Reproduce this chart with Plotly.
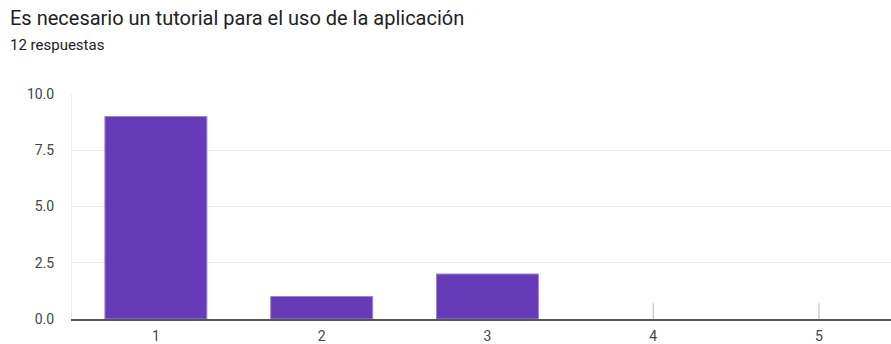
import plotly.graph_objects as go

# Survey responses: rating scale 1-5
categories = [1, 2, 3, 4, 5]
counts = [9, 1, 2, 0, 0]
y_ticks = [0, 2.5, 5, 7.5, 10]

title_text = "Es necesario un tutorial para el uso de la aplicación"
subtitle_text = "12 respuestas"

PURPLE = "#673ab7"
FONT = "Roboto, Arial, sans-serif"

fig = go.Figure()

fig.add_trace(go.Bar(
    x=categories,
    y=counts,
    width=0.615,
    marker=dict(color=PURPLE,
                line=dict(color="#9b82d6",
                          width=[1 if v > 0 else 0 for v in counts])),
    hoverinfo="x+y",
))

# small stub marks for categories with no responses
zero_x = [c for c, v in zip(categories, counts) if v == 0]
fig.add_trace(go.Scatter(
    x=zero_x,
    y=[0] * len(zero_x),
    mode="markers",
    marker=dict(size=1, color="rgba(0,0,0,0)"),
    error_y=dict(type="data", symmetric=False, array=[0.7] * len(zero_x),
                 arrayminus=[0] * len(zero_x), color="#c4c4c4",
                 thickness=1.2, width=0),
    hoverinfo="skip",
))

fig.update_layout(
    width=891,
    height=344,
    margin=dict(l=72, r=0, t=94, b=25),
    paper_bgcolor="white",
    plot_bgcolor="white",
    showlegend=False,
    font=dict(family=FONT, size=14, color="#444"),
    annotations=[
        dict(text=title_text, xref="paper", yref="paper",
             x=(8 - 72) / 819, y=1 + 76 / 225, xanchor="left", yanchor="middle",
             showarrow=False, font=dict(family=FONT, size=20, color="#202124")),
        dict(text=subtitle_text, xref="paper", yref="paper",
             x=(8 - 72) / 819, y=1 + 49 / 225, xanchor="left", yanchor="middle",
             showarrow=False, font=dict(family=FONT, size=15, color="#202124")),
    ],
)

fig.update_xaxes(
    range=[0.494, 5.434],
    tickmode="array",
    tickvals=categories,
    ticktext=[str(c) for c in categories],
    showgrid=False,
    zeroline=False,
    showline=True,
    linecolor="#555",
    linewidth=1.5,
    ticks="",
    ticklabelstandoff=3,
    tickfont=dict(size=14, color="#444"),
    automargin=False,
    fixedrange=True,
)

fig.update_yaxes(
    range=[0, 10],
    tickmode="array",
    tickvals=y_ticks,
    tickformat=".1f",
    showgrid=True,
    gridcolor="#ebebeb",
    gridwidth=1,
    zeroline=False,
    showline=True,
    linecolor="#ebebeb",
    linewidth=1,
    ticks="",
    ticklabelstandoff=14,
    tickfont=dict(size=14, color="#444"),
    automargin=False,
    fixedrange=True,
)

fig.write_html("out.html")
